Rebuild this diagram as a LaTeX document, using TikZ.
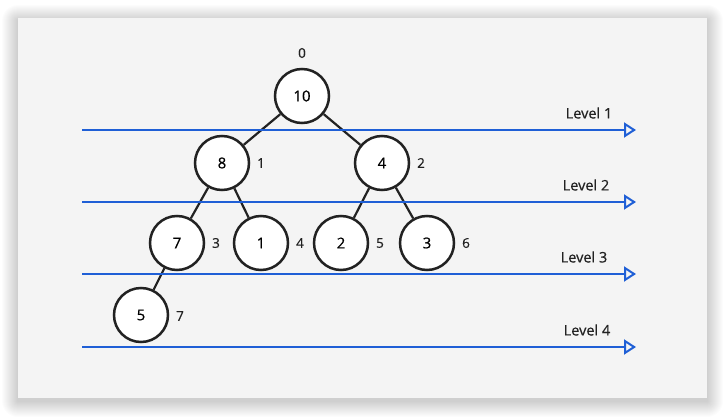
\documentclass[tikz,border=0pt]{standalone}
\usepackage{fontspec}
\setmainfont{Open Sans}[FakeBold=0.6]
\usetikzlibrary{arrows.meta}
\definecolor{panel}{HTML}{F4F4F4}
\definecolor{ink}{HTML}{222222}
\definecolor{levelblue}{HTML}{1F5FD6}
\tikzset{
  heapnode/.style={circle, draw=ink, fill=white, line width=2.5pt, minimum size=54pt, inner sep=0pt, font=\fontsize{15}{17}\selectfont},
  idx/.style={font=\fontsize{13.5}{15}\selectfont, text=ink},
  edge/.style={draw=ink, line width=2.2pt},
  levelline/.style={draw=levelblue, line width=2pt, -{Triangle[open, fill=panel, length=12pt, width=15pt]}},
  levellabel/.style={font=\fontsize{14.5}{16}\selectfont, text=ink},
}
\begin{document}
\begin{tikzpicture}[x=1pt, y=-1pt]
\useasboundingbox (0,0) rectangle (725,417);
\fill[white] (0,0) rectangle (725,417);
% soft shadow around the card
\foreach \d in {1,2,...,16}
  \fill[black, opacity=0.011, rounded corners=\d pt] (18-\d,18-\d+3) rectangle (707+\d,398+\d+3);
\fill[panel] (18,18) rectangle (707,398);

% level guides
\coordinate (l1s) at (82,130); \coordinate (l1e) at (636,130);
\coordinate (l2s) at (82,202); \coordinate (l2e) at (636,202);
\coordinate (l3s) at (82,274); \coordinate (l3e) at (636,274);
\coordinate (l4s) at (82,347); \coordinate (l4e) at (636,347);

% heap nodes
\node[heapnode] (n0) at (302,96) {10};
\node[heapnode] (n1) at (222,163) {8};
\node[heapnode] (n2) at (382,163) {4};
\node[heapnode] (n3) at (177,243) {7};
\node[heapnode] (n4) at (261,243) {1};
\node[heapnode] (n5) at (341,243) {2};
\node[heapnode] (n6) at (427,243) {3};
\node[heapnode] (n7) at (141,315) {5};

% tree edges
\path[edge] (n0) -- (n1);
\path[edge] (n0) -- (n2);
\path[edge] (n1) -- (n3);
\path[edge] (n1) -- (n4);
\path[edge] (n2) -- (n5);
\path[edge] (n2) -- (n6);
\path[edge] (n3) -- (n7);

\path[levelline] (l1s) -- (l1e);
\path[levelline] (l2s) -- (l2e);
\path[levelline] (l3s) -- (l3e);
\path[levelline] (l4s) -- (l4e);

% array indices
\node[idx] (i0) at (302,53) {0};
\node[idx] (i1) at (261,163) {1};
\node[idx] (i2) at (421,163) {2};
\node[idx] (i3) at (216,243) {3};
\node[idx] (i4) at (300,243) {4};
\node[idx] (i5) at (380,243) {5};
\node[idx] (i6) at (466,243) {6};
\node[idx] (i7) at (180,316) {7};

% level labels
\node[levellabel] (t1) at (589,113) {Level 1};
\node[levellabel] (t2) at (586,185) {Level 2};
\node[levellabel] (t3) at (584,257) {Level 3};
\node[levellabel] (t4) at (587,330) {Level 4};
\end{tikzpicture}
\end{document}
